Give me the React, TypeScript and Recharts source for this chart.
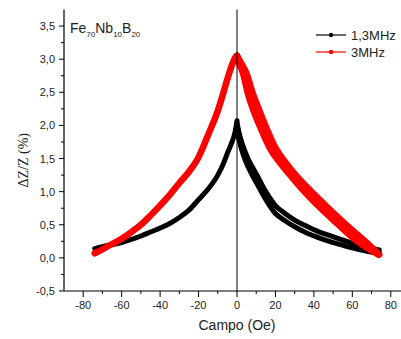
import React from 'react';
import { LineChart, Line, XAxis, YAxis, ReferenceLine, Legend, Label } from 'recharts';

// ---- data ----
const blackLeftField = [-74, -70, -65, -60, -55, -50, -45, -40, -35, -30, -25, -20, -15, -10, -7, -5, -3, -1, 0];
const blackLeftDZ = [0.14, 0.17, 0.2, 0.23, 0.28, 0.33, 0.39, 0.45, 0.52, 0.61, 0.72, 0.88, 1.04, 1.25, 1.43, 1.58, 1.72, 1.9, 2.07];

const blackRightField = [0, 1, 3, 6, 10, 15, 20, 25, 30, 36, 42, 48, 54, 60, 66, 72, 74];
const blackRightUpperDZ = [2.05, 1.9, 1.7, 1.48, 1.27, 1.0, 0.79, 0.67, 0.57, 0.48, 0.4, 0.34, 0.28, 0.22, 0.17, 0.13, 0.12];
const blackRightLowerDZ = [2.0, 1.8, 1.58, 1.36, 1.14, 0.88, 0.67, 0.56, 0.47, 0.38, 0.31, 0.25, 0.2, 0.15, 0.11, 0.08, 0.09];

const redLeftField = [-74, -70, -65, -60, -55, -50, -45, -40, -35, -30, -25, -20, -15, -10, -7, -5, -3, -1, 0];
const redLeftDZ = [0.07, 0.13, 0.21, 0.29, 0.39, 0.5, 0.64, 0.79, 0.95, 1.13, 1.3, 1.52, 1.86, 2.22, 2.5, 2.7, 2.88, 3.02, 3.05];

const redRightDZ = [3.05, 2.95, 2.78, 2.5, 2.27, 1.98, 1.66, 1.45, 1.27, 1.05, 0.82, 0.52, 0.24, 0.05];
const redRightUpperField = [0, 2, 5, 8, 11, 15, 20, 25, 30, 37, 45, 56, 67, 74];
const redRightLowerField = [0, 1, 3.2, 5.5, 8, 12, 17, 22, 27, 33.5, 41, 52, 63, 73.5];

const seriesNames = ['1,3MHz', '3MHz'];

const xTicks = [-80, -70, -60, -50, -40, -30, -20, -10, 0, 10, 20, 30, 40, 50, 60, 70, 80];
const xTickLabels = [-80, -60, -40, -20, 0, 20, 40, 60, 80];
const yTicks = [-0.5, -0.25, 0, 0.25, 0.5, 0.75, 1, 1.25, 1.5, 1.75, 2, 2.25, 2.5, 2.75, 3, 3.25, 3.5];
const yTickLabels = [-0.5, 0, 0.5, 1, 1.5, 2, 2.5, 3, 3.5];

const zip = (xs: number[], ys: number[]) => xs.map((x, i) => ({ x, y: ys[i] }));

const blackLeft = zip(blackLeftField, blackLeftDZ);
const blackRightUpper = zip(blackRightField, blackRightUpperDZ);
const blackRightLower = zip(blackRightField, blackRightLowerDZ);
const redLeft = zip(redLeftField, redLeftDZ);
const redRightUpper = zip(redRightUpperField, redRightDZ);
const redRightLower = zip(redRightLowerField, redRightDZ);

const FONT = '"Liberation Sans", Arial, sans-serif';
const SERIF = '"Liberation Serif", "Times New Roman", serif';

const BottomTick = (props: any) => {
  const { x, y, payload } = props;
  const v = payload.value;
  const major = xTickLabels.includes(v);
  return (
    <g>
      <line x1={x} x2={x} y1={y} y2={y + (major ? 6 : 3)} stroke="#000" strokeWidth={1} />
      {major && (
        <text x={x} y={y + 18} textAnchor="middle" fontSize={11} style={{ fontFamily: FONT }} fill="#222">
          {v}
        </text>
      )}
    </g>
  );
};

const TopTick = (props: any) => {
  const { x, y, payload } = props;
  const major = xTickLabels.includes(payload.value);
  return <line x1={x} x2={x} y1={y} y2={y + (major ? 5 : 3)} stroke="#000" strokeWidth={1} />;
};

const LeftTick = (props: any) => {
  const { x, y, payload } = props;
  const v = payload.value;
  const major = yTickLabels.includes(v);
  return (
    <g>
      <line x1={x - (major ? 5 : 3)} x2={x} y1={y} y2={y} stroke="#000" strokeWidth={1} />
      {major && (
        <text x={x - 9} y={y + 4} textAnchor="end" fontSize={11} style={{ fontFamily: FONT }} fill="#222">
          {v.toFixed(1).replace('.', ',')}
        </text>
      )}
    </g>
  );
};

const renderXLabel = (props: any) => {
  const vb = props.viewBox;
  return (
    <text x={vb.x + vb.width / 2} y={vb.y + 39} textAnchor="middle" fontSize={14} style={{ fontFamily: FONT }} fill="#222">
      Campo (Oe)
    </text>
  );
};

const renderYLabel = (props: any) => {
  const vb = props.viewBox;
  const cx = 23;
  const cy = vb.y + vb.height / 2 + 10;
  return (
    <text
      x={cx}
      y={cy}
      transform={`rotate(-90 ${cx} ${cy})`}
      textAnchor="middle"
      dominantBaseline="central"
      fontSize={14}
      fontFamily="Liberation Serif"
      style={{ fontFamily: SERIF, fontSize: 14 }}
      fill="#222"
    >
      ΔZ/Z (%)
    </text>
  );
};

const renderLegend = (props: any) => {
  const items = (props.payload || []).filter((p: any) => seriesNames.includes(p.value));
  return (
    <svg width={90} height={40} style={{ display: 'block' }}>
      {items.map((p: any, i: number) => (
        <g key={p.value}>
          <line x1={4} x2={34} y1={9 + i * 17} y2={9 + i * 17} stroke={p.color} strokeWidth={1.2} />
          <circle cx={19} cy={9 + i * 17} r={2.2} fill={p.color} />
          <text x={39} y={13.5 + i * 17} fontSize={13} style={{ fontFamily: FONT }} fill="#222">
            {p.value}
          </text>
        </g>
      ))}
    </svg>
  );
};

export default function App() {
  return (
    <div style={{ position: 'absolute', left: 0, top: 0, width: 401, height: 339, overflow: 'hidden', background: '#fff' }}>
      <LineChart width={420} height={339} margin={{ top: 9.5, right: 10, left: 0, bottom: 18 }}>
        <XAxis
          dataKey="x"
          type="number"
          domain={[-90, 90]}
          ticks={xTicks}
          interval={0}
          tickSize={0}
          tickMargin={0}
          tickLine={false}
          tick={<BottomTick />}
          height={30}
          allowDataOverflow
          axisLine={{ stroke: '#000', strokeWidth: 1.2 }}
        >
          <Label content={renderXLabel} />
        </XAxis>
        <XAxis
          xAxisId="top"
          orientation="top"
          mirror
          dataKey="x"
          type="number"
          domain={[-90, 90]}
          ticks={xTicks}
          interval={0}
          tickSize={0}
          tickMargin={0}
          tickLine={false}
          tick={<TopTick />}
          height={0}
          allowDataOverflow
          axisLine={{ stroke: '#000', strokeWidth: 1.2 }}
        />
        <YAxis
          type="number"
          domain={[-0.5, 3.75]}
          ticks={yTicks}
          interval={0}
          tickSize={0}
          tickMargin={0}
          tickLine={false}
          tick={<LeftTick />}
          width={64}
          allowDataOverflow
          axisLine={{ stroke: '#000', strokeWidth: 1.2 }}
        >
          <Label content={renderYLabel} />
        </YAxis>
        <Legend
          layout="vertical"
          align="center"
          verticalAlign="middle"
          content={renderLegend}
          wrapperStyle={{ left: 312, top: 26, width: 90, height: 40 }}
        />
        <Line data={blackLeft} dataKey="y" name={seriesNames[0]} type="monotone" stroke="#000" strokeWidth={5} dot={false} isAnimationActive={false} strokeLinecap="round" />
        <Line data={blackRightUpper} dataKey="y" name="b2" legendType="none" type="monotone" stroke="#000" strokeWidth={5} dot={false} isAnimationActive={false} strokeLinecap="round" />
        <Line data={blackRightLower} dataKey="y" name="b3" legendType="none" type="monotone" stroke="#000" strokeWidth={5} dot={false} isAnimationActive={false} strokeLinecap="round" />
        <Line data={redLeft} dataKey="y" name={seriesNames[1]} type="monotone" stroke="#ff0000" strokeWidth={6.5} dot={false} isAnimationActive={false} strokeLinecap="round" />
        <Line data={redRightUpper} dataKey="y" name="r2" legendType="none" type="monotone" stroke="#ff0000" strokeWidth={6.5} dot={false} isAnimationActive={false} strokeLinecap="round" />
        <Line data={redRightLower} dataKey="y" name="r3" legendType="none" type="monotone" stroke="#ff0000" strokeWidth={6.5} dot={false} isAnimationActive={false} strokeLinecap="round" />
        <ReferenceLine x={0} stroke="#000" strokeWidth={1} />
      </LineChart>
      <svg width={401} height={339} style={{ position: 'absolute', left: 0, top: 0, pointerEvents: 'none' }}>
        <text x={70} y={32.5} fontSize={14} style={{ fontFamily: FONT }} fill="#222">
          Fe<tspan fontSize={8} dy={4}>70</tspan>
          <tspan dy={-4}>Nb</tspan>
          <tspan fontSize={8} dy={4}>10</tspan>
          <tspan dy={-4}>B</tspan>
          <tspan fontSize={8} dy={4}>20</tspan>
        </text>
      </svg>
    </div>
  );
}
